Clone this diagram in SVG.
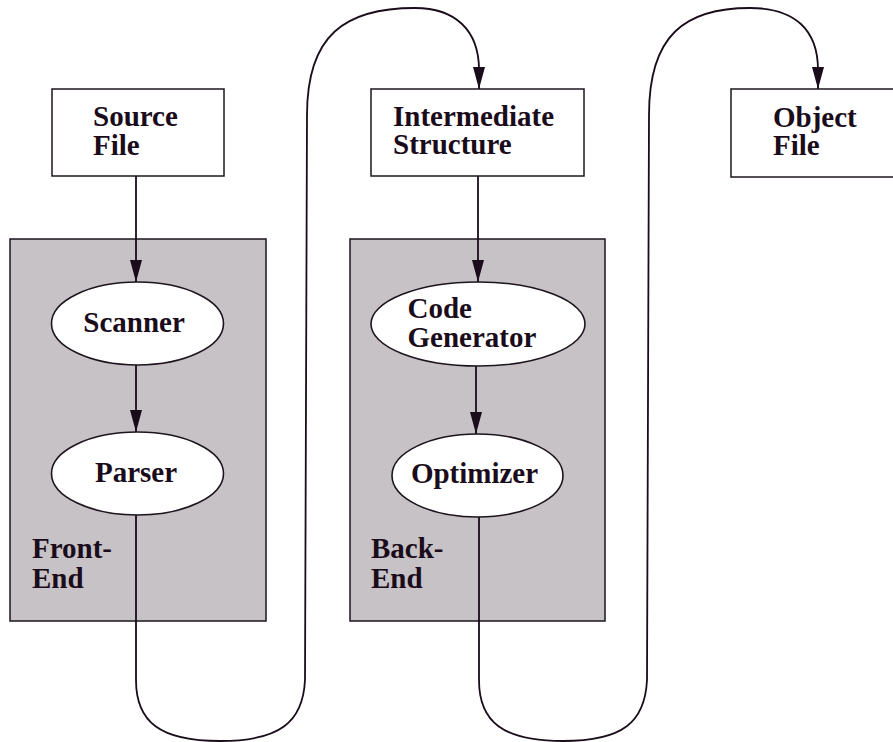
<svg xmlns="http://www.w3.org/2000/svg" width="893" height="742" viewBox="0 0 893 742">
<style>
  .box{fill:#ffffff;stroke:#1e141e;stroke-width:1.5}
  .group{fill:#c6c2c6;stroke:#1e141e;stroke-width:1.5}
  .ell{fill:#ffffff;stroke:#1e141e;stroke-width:1.6}
  .lbl{font-family:"Liberation Serif","Times New Roman",serif;font-weight:bold;font-size:29px;fill:#1a0c1a}
  .conn{fill:none;stroke:#1a0c1a;stroke-width:1.8}
</style>
<defs>
  <marker id="arr" markerUnits="userSpaceOnUse" viewBox="0 0 22 12" refX="22" refY="6" markerWidth="22" markerHeight="12" orient="auto">
    <path d="M0,0 L22,6 L0,12 z" fill="#1a0c1a"/>
  </marker>
</defs>
<rect width="893" height="742" fill="#ffffff"/>

<g id="front-end">
  <rect class="group" x="10" y="239" width="256" height="382"/>
  <text class="lbl" x="32" y="558">Front-<tspan x="32" dy="30">End</tspan></text>
</g>
<g id="back-end">
  <rect class="group" x="350" y="239" width="255" height="382"/>
  <text class="lbl" x="371" y="558">Back-<tspan x="371" dy="30">End</tspan></text>
</g>

<g id="connectors">
  <path class="conn" d="M136,176 V282" marker-end="url(#arr)"/>
  <path class="conn" d="M136,365 V432" marker-end="url(#arr)"/>
  <path class="conn" d="M478,176 V282" marker-end="url(#arr)"/>
  <path class="conn" d="M476,366 V434" marker-end="url(#arr)"/>
  <path class="conn" d="M136,515 V680 C136,722 160,741 220,741 C280,741 303,722 305,680 L307,115 C307,35 345,8 415,8 C455,8 479,30 479,70 V89" marker-end="url(#arr)"/>
  <path class="conn" d="M479,517 V680 C479,722 503,741 563,741 C623,741 645,722 647,680 L649,115 C649,35 685,8 750,8 C795,8 818,30 818,70 V89" marker-end="url(#arr)"/>
</g>

<g id="source-file">
  <rect class="box" x="52" y="89" width="172" height="87"/>
  <text class="lbl" x="93" y="126">Source<tspan x="93" dy="28.5">File</tspan></text>
</g>
<g id="intermediate-structure">
  <rect class="box" x="371" y="89" width="213" height="87"/>
  <text class="lbl" x="393" y="126">Intermediate<tspan x="393" dy="28">Structure</tspan></text>
</g>
<g id="object-file">
  <rect class="box" x="731" y="89" width="200" height="88"/>
  <text class="lbl" x="773" y="127">Object<tspan x="773" dy="28">File</tspan></text>
</g>
<g id="scanner">
  <ellipse class="ell" cx="137.5" cy="323.5" rx="86" ry="41.5"/>
  <text class="lbl" x="134" y="331.5" text-anchor="middle">Scanner</text>
</g>
<g id="parser">
  <ellipse class="ell" cx="137.5" cy="473.5" rx="86" ry="41.5"/>
  <text class="lbl" x="136" y="481.5" text-anchor="middle">Parser</text>
</g>
<g id="code-generator">
  <ellipse class="ell" cx="478" cy="324" rx="107" ry="42"/>
  <text class="lbl" x="407.5" y="318">Code<tspan x="407.5" dy="28.5">Generator</tspan></text>
</g>
<g id="optimizer">
  <ellipse class="ell" cx="477.5" cy="475.5" rx="85.5" ry="41.5"/>
  <text class="lbl" x="474.5" y="483" text-anchor="middle">Optimizer</text>
</g>
</svg>
